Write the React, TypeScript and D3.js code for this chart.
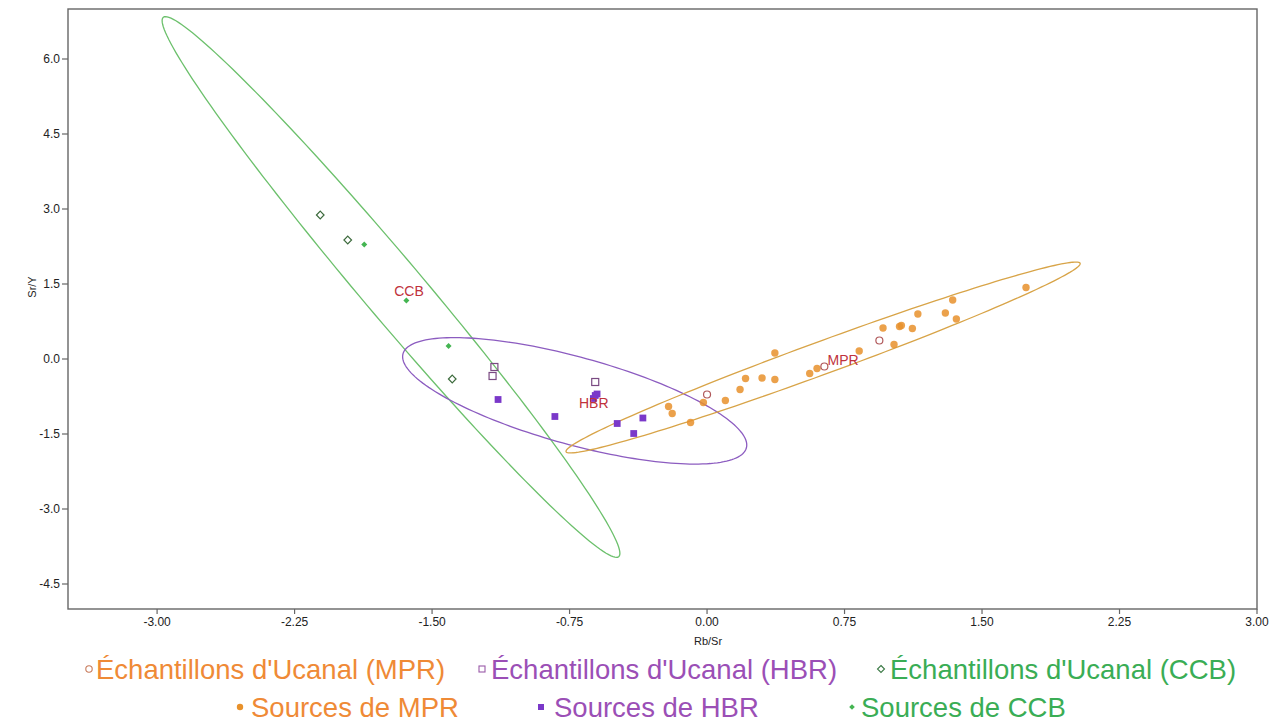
import React from 'react';
import { scaleLinear, line, curveLinearClosed, range } from 'd3';

// Rb/Sr (x) vs Sr/Y (y)
const mprSamples = [[0.0, -0.71], [0.64, -0.15], [0.94, 0.37]];
const hbrSamples = [[-1.16, -0.16], [-1.17, -0.34], [-0.61, -0.46]];
const ccbSamples = [[-2.11, 2.88], [-1.96, 2.38], [-1.39, -0.4]];

const mprSources = [
    [0.37, 0.12], [-0.21, -0.95], [-0.19, -1.09], [-0.09, -1.27], [-0.02, -0.87],
    [0.1, -0.83], [0.18, -0.61], [0.21, -0.39], [0.3, -0.38], [0.37, -0.41],
    [0.56, -0.29], [0.6, -0.19], [0.83, 0.16], [0.96, 0.62], [1.02, 0.29],
    [1.05, 0.65], [1.06, 0.67], [1.12, 0.61], [1.15, 0.9], [1.3, 0.92],
    [1.34, 1.18], [1.36, 0.8], [1.74, 1.43]
];
const hbrSources = [
    [-1.14, -0.81], [-0.83, -1.15], [-0.49, -1.29], [-0.35, -1.18], [-0.4, -1.49],
    [-0.61, -0.73], [-0.6, -0.7], [-0.62, -0.79]
];
const ccbSources = [[-1.87, 2.29], [-1.64, 1.17], [-1.41, 0.26]];

// group ellipses: centre and spread (variance / covariance in data units)
const ellipseGroups = ['CCB', 'HBR', 'MPR'];
const ellipseCx = [-1.724, -0.722, 0.633];
const ellipseCy = [1.44, -0.837, 0.03];
const ellipseSxx = [1.559, 0.881, 1.967];
const ellipseSyy = [29.245, 1.6, 3.644];
const ellipseSxy = [-6.652, -0.829, 2.632];

const groupLabels = ['CCB', 'HBR', 'MPR'];
const groupLabelX = [-1.626, -0.618, 0.742];
const groupLabelY = [1.36, -0.88, -0.02];

const xTicks = [-3, -2.25, -1.5, -0.75, 0, 0.75, 1.5, 2.25, 3];
const yTicks = [-4.5, -3, -1.5, 0, 1.5, 3, 4.5, 6];

const ORANGE = '#e8912b';
const PURPLE = '#7a38c9';
const GREEN = '#44b552';
const ellipseColors = ['#6cc06c', '#8c5cc0', '#d8a448'];
const FONT = '"Liberation Sans", Arial, sans-serif';

const App = () => {
    const width = 1277;
    const height = 724;
    const left = 68, right = 1257, top = 9, bottom = 609;

    const xScale = scaleLinear().domain([-3.486, 3]).range([left, right]);
    const yScale = scaleLinear().domain([-5, 7]).range([bottom, top]);

    const ellipsePath = (i) => {
        const a = Math.sqrt(ellipseSxx[i]);
        const c = ellipseSxy[i] / a;
        const d = Math.sqrt(ellipseSyy[i] - c * c);
        const pts = range(0, 180).map(k => {
            const t = (k / 180) * Math.PI * 2;
            const u = Math.cos(t), v = Math.sin(t);
            return [ellipseCx[i] + a * u, ellipseCy[i] + c * u + d * v];
        });
        return line().x(p => xScale(p[0])).y(p => yScale(p[1])).curve(curveLinearClosed)(pts);
    };

    const diamond = (cx, cy, r) => `M${cx},${cy - r}L${cx + r},${cy}L${cx},${cy + r}L${cx - r},${cy}Z`;

    return (
        <div style={{ position: 'absolute', left: 0, top: 0 }}>
            <svg width={width} height={height} style={{ display: 'block', background: '#fff' }} fontFamily={FONT}>
                <rect x={left} y={top} width={right - left} height={bottom - top} fill="none" stroke="#666" strokeWidth={1.4} />

                {yTicks.map(t =>
                    <g key={`y-${t}`} transform={`translate(0, ${yScale(t)})`}>
                        <line x1={left - 6} x2={left} stroke="#666" strokeWidth={1.2} />
                        <text x={left - 8} dy="0.35em" textAnchor="end" fontSize={12} fill="#222">{t.toFixed(1)}</text>
                    </g>
                )}
                {xTicks.map(t =>
                    <g key={`x-${t}`} transform={`translate(${xScale(t)}, 0)`}>
                        <line y1={bottom} y2={bottom + 5} stroke="#666" strokeWidth={1.2} />
                        <text y={bottom + 17} textAnchor="middle" fontSize={12} fill="#222">{t.toFixed(2)}</text>
                    </g>
                )}
                <text x={708} y={645} textAnchor="middle" fontSize={11} fill="#222">Rb/Sr</text>
                <text transform="translate(36, 287) rotate(-90)" textAnchor="middle" fontSize={11} fill="#222">Sr/Y</text>

                {ellipseGroups.map((g, i) =>
                    <path key={`ell-${g}`} d={ellipsePath(i)} fill="none" stroke={ellipseColors[i]} strokeWidth={1.3} />
                )}

                {mprSources.map((p, i) =>
                    <circle key={`mprs-${i}`} cx={xScale(p[0])} cy={yScale(p[1])} r={3.7} fill={ORANGE} fillOpacity={0.85} />
                )}
                {hbrSources.map((p, i) =>
                    <rect key={`hbrs-${i}`} x={xScale(p[0]) - 3.4} y={yScale(p[1]) - 3.4} width={6.8} height={6.8} fill={PURPLE} />
                )}
                {ccbSources.map((p, i) =>
                    <path key={`ccbs-${i}`} d={diamond(xScale(p[0]), yScale(p[1]), 3)} fill={GREEN} />
                )}
                {mprSamples.map((p, i) =>
                    <circle key={`mpr-${i}`} cx={xScale(p[0])} cy={yScale(p[1])} r={3.5} fill="#fff" stroke="#b0585a" strokeWidth={1.2} />
                )}
                {hbrSamples.map((p, i) =>
                    <rect key={`hbr-${i}`} x={xScale(p[0]) - 3.5} y={yScale(p[1]) - 3.5} width={7} height={7} fill="none" stroke="#7a4a82" strokeWidth={1.2} />
                )}
                {ccbSamples.map((p, i) =>
                    <path key={`ccb-${i}`} d={diamond(xScale(p[0]), yScale(p[1]), 3.8)} fill="#fff" stroke="#3c6a3c" strokeWidth={1.2} />
                )}

                {groupLabels.map((g, i) =>
                    <text key={`lab-${g}`} x={xScale(groupLabelX[i])} y={yScale(groupLabelY[i])} dy="0.35em" textAnchor="middle" fontSize={14} fill="#c0323c">{g}</text>
                )}

                {/* legend */}
                <g fontSize={27.5}>
                    <circle cx={89} cy={669} r={3.2} fill="#fff" stroke="#c87a5a" strokeWidth={1.1} />
                    <text x={96} y={679} fill="#ef8a36">Échantillons d'Ucanal (MPR)</text>
                    <rect x={479} y={666} width={6} height={6} fill="none" stroke="#9a5aa8" strokeWidth={1.1} />
                    <text x={491} y={679} fill="#9b4fb6">Échantillons d'Ucanal (HBR)</text>
                    <path d={diamond(881, 669, 3.5)} fill="none" stroke="#3c7a46" strokeWidth={1.1} />
                    <text x={890} y={679} fill="#3aad55">Échantillons d'Ucanal (CCB)</text>

                    <circle cx={240} cy={707} r={3.2} fill={ORANGE} />
                    <text x={251} y={717} fill="#ef8a36">Sources de MPR</text>
                    <rect x={538} y={704} width={6} height={6} fill={PURPLE} />
                    <text x={554} y={717} fill="#9b4fb6">Sources de HBR</text>
                    <path d={diamond(852, 707, 2.8)} fill={GREEN} />
                    <text x={861} y={717} fill="#3aad55">Sources de CCB</text>
                </g>
            </svg>
        </div>
    );
};

export default App;
